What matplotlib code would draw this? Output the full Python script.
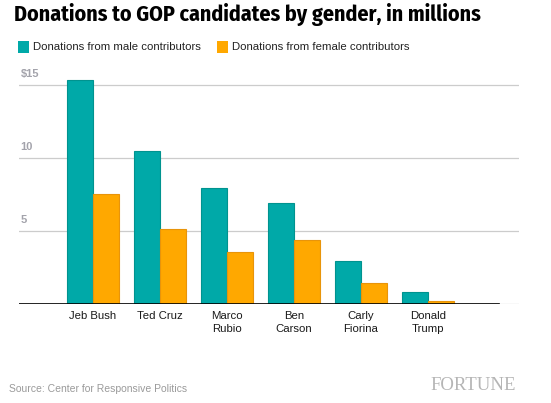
import numpy as np
import matplotlib
matplotlib.use("Agg")
import matplotlib.pyplot as plt
from matplotlib.patches import Rectangle

plt.rcParams['font.family'] = ['Liberation Sans', 'DejaVu Sans']

# chart data (millions of dollars)
candidates = ["Jeb Bush", "Ted Cruz", "Marco\nRubio", "Ben\nCarson", "Carly\nFiorina", "Donald\nTrump"]
male = [15.35, 10.48, 7.95, 6.92, 2.95, 0.82]
female = [7.53, 5.14, 3.56, 4.38, 1.44, 0.2]
yticks = [5, 10, 15]
ytick_labels = ["5", "10", "$15"]

teal = "#00a9a8"
teal_edge = "#00938f"
orange = "#ffa800"
orange_edge = "#e8940a"
grey_txt = "#a3a3ab"

fig = plt.figure(figsize=(5.51, 4.03), dpi=100)
ax = fig.add_axes([19 / 551, (403 - 304.3) / 403, 500 / 551, 0.5797])

x = np.arange(len(candidates))
w = 0.385
ax.bar(x - w / 2, male, w, color=teal, edgecolor=teal_edge, linewidth=0.8, zorder=3)
ax.bar(x + w / 2, female, w, color=orange, edgecolor=orange_edge, linewidth=0.8, zorder=3)

ax.set_xlim(-1.1, 6.36)
ax.set_ylim(0, 16)

# gridlines
for v in [0] + yticks:
    ax.axhline(v, color="#cccccc", linewidth=0.9, zorder=1)
ax.axhline(0, xmin=0, xmax=480 / 500, color="black", linewidth=1.2, zorder=4)

# y labels sit above each gridline
for v, lab in zip(yticks, ytick_labels):
    ax.annotate(lab, xy=(0, v), xycoords=("axes fraction", "data"),
                xytext=(1, 4.5), textcoords="offset points",
                ha="left", va="bottom", fontsize=8, fontweight="bold", color=grey_txt)

for s in ax.spines.values():
    s.set_visible(False)
ax.set_yticks([])
ax.set_xticks(x)
ax.set_xticklabels(candidates, fontsize=8.2, color="#1a1a1a", linespacing=1.35)
ax.tick_params(axis="x", length=0, pad=5)

# title
fig.text(14 / 551, 1 - 15 / 403, "Donations to GOP candidates by gender, in millions",
         fontsize=15.8, fontweight="bold", va="center", ha="left",
         family=["Fira Sans Condensed", "DejaVu Sans"], color="black")

# legend
items = [("Donations from male contributors", teal, 18),
         ("Donations from female contributors", orange, 217)]
for lab, col, px in items:
    fig.patches.append(Rectangle((px / 551, 1 - 53 / 403), 11 / 551, 12 / 403,
                                 transform=fig.transFigure, facecolor=col, edgecolor="none"))
    fig.text((px + 15) / 551, 1 - 47.5 / 403, lab, fontsize=8.2, va="center", ha="left",
             color="#222222")

fig.text(9 / 551, 1 - 389 / 403, "Source: Center for Responsive Politics",
         fontsize=7.5, color="#9a9a9a", va="center", ha="left")
fig.text(516 / 551, 1 - 386 / 403, "FORTUNE", fontsize=13.5, color="#b5b5b5",
         va="center", ha="right", family=["Liberation Serif", "DejaVu Serif"])

fig.savefig("out.png", dpi=100)
